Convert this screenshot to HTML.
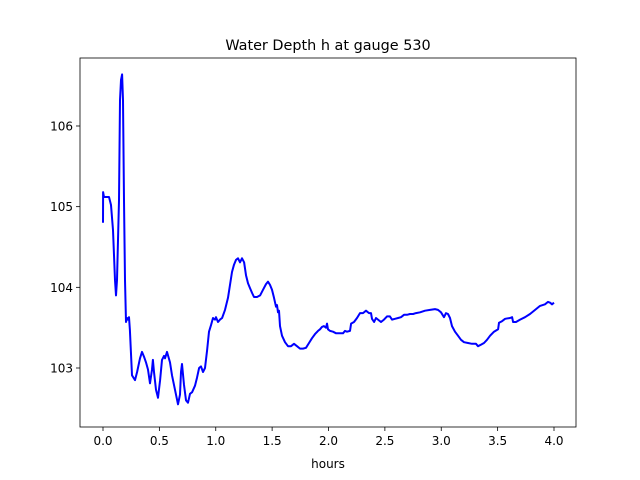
<!DOCTYPE html>
<html><head><meta charset="utf-8"><style>body{margin:0;background:#fff}svg{display:block;font-family:"DejaVu Sans","Liberation Sans",sans-serif}</style></head>
<body>
<svg id="chart" width="640" height="480" xmlns="http://www.w3.org/2000/svg">
<text x="328" y="50" font-size="14.4" text-anchor="middle">Water Depth h at gauge 530</text>
<text x="328" y="468" font-size="12" text-anchor="middle">hours</text>
<g id="axes"></g>
</svg>
<script>
const hours=[0.000,0.001,0.009,0.053,0.071,0.089,0.106,0.115,0.124,0.142,0.151,0.160,0.169,0.177,0.186,0.195,0.204,0.213,0.222,0.231,0.239,0.257,0.284,0.302,0.328,0.346,0.364,0.381,0.399,0.417,0.435,0.443,0.452,0.470,0.488,0.506,0.523,0.541,0.550,0.568,0.594,0.612,0.639,0.665,0.683,0.692,0.701,0.718,0.736,0.754,0.772,0.790,0.816,0.834,0.852,0.869,0.887,0.905,0.923,0.940,0.958,0.976,0.993,1.002,1.020,1.038,1.056,1.082,1.109,1.126,1.144,1.162,1.180,1.197,1.215,1.233,1.251,1.268,1.286,1.304,1.322,1.339,1.366,1.393,1.419,1.446,1.463,1.481,1.499,1.517,1.534,1.543,1.552,1.561,1.570,1.588,1.614,1.641,1.667,1.694,1.721,1.747,1.774,1.800,1.827,1.854,1.880,1.907,1.925,1.942,1.960,1.978,1.987,1.996,2.013,2.040,2.067,2.102,2.129,2.146,2.164,2.191,2.200,2.226,2.253,2.279,2.306,2.333,2.359,2.377,2.386,2.404,2.421,2.439,2.466,2.492,2.519,2.545,2.563,2.590,2.617,2.643,2.670,2.696,2.723,2.750,2.776,2.812,2.856,2.900,2.945,2.971,2.998,3.024,3.042,3.060,3.078,3.095,3.122,3.149,3.175,3.202,3.237,3.273,3.308,3.326,3.353,3.379,3.406,3.433,3.468,3.504,3.512,3.539,3.566,3.610,3.628,3.637,3.663,3.699,3.743,3.787,3.832,3.876,3.920,3.947,3.965,3.982,4.000];
const depth=[104.80,105.18,105.12,105.12,105.02,104.71,104.09,103.90,104.09,105.08,106.32,106.57,106.64,106.32,105.08,104.09,103.57,103.62,103.60,103.63,103.47,102.91,102.85,102.95,103.12,103.20,103.14,103.07,102.98,102.81,102.98,103.10,102.95,102.73,102.63,102.85,103.10,103.15,103.12,103.20,103.07,102.91,102.73,102.55,102.67,102.95,103.05,102.79,102.60,102.57,102.68,102.70,102.78,102.88,103.00,103.02,102.95,103.00,103.22,103.45,103.53,103.62,103.60,103.63,103.57,103.60,103.62,103.72,103.87,104.03,104.19,104.28,104.34,104.36,104.31,104.36,104.31,104.15,104.05,103.99,103.93,103.88,103.88,103.90,103.97,104.04,104.07,104.03,103.97,103.87,103.76,103.78,103.69,103.71,103.52,103.40,103.32,103.27,103.27,103.30,103.27,103.24,103.24,103.25,103.31,103.37,103.42,103.46,103.48,103.51,103.52,103.50,103.55,103.48,103.46,103.45,103.43,103.43,103.43,103.46,103.45,103.46,103.55,103.57,103.62,103.68,103.68,103.71,103.68,103.68,103.61,103.57,103.62,103.60,103.57,103.60,103.64,103.64,103.60,103.61,103.62,103.63,103.66,103.66,103.67,103.67,103.68,103.69,103.71,103.72,103.73,103.72,103.69,103.63,103.68,103.67,103.62,103.52,103.45,103.40,103.35,103.32,103.31,103.30,103.30,103.27,103.29,103.31,103.35,103.40,103.45,103.48,103.56,103.58,103.61,103.62,103.63,103.57,103.57,103.60,103.63,103.67,103.72,103.77,103.79,103.82,103.81,103.79,103.81];
const xTicks=[0.0,0.5,1.0,1.5,2.0,2.5,3.0,3.5,4.0];
const xTickLabels=["0.0","0.5","1.0","1.5","2.0","2.5","3.0","3.5","4.0"];
const yTicks=[103,104,105,106];
const yTickLabels=["103","104","105","106"];

const L=80,R=576,T=58,B=427;
const xs=h=>103+h*112.75;
const ys=d=>368-(d-103)*80.67;
const NS="http://www.w3.org/2000/svg";
const g=document.getElementById('axes');
function mk(tag,attrs){const e=document.createElementNS(NS,tag);for(const k in attrs)e.setAttribute(k,attrs[k]);g.appendChild(e);return e;}
let d='';
hours.forEach((h,i)=>{d+=(i?'L':'M')+xs(h).toFixed(1)+','+ys(depth[i]).toFixed(1);});
const line=mk('path',{d:d,fill:'none',stroke:'#0000ff','stroke-width':'2','stroke-linejoin':'round'});


xTicks.forEach((t,i)=>{
 const tk=mk('line',{x1:xs(t),x2:xs(t),y1:B,y2:B+4,stroke:'#000','stroke-width':'0.8'});
 
 
 const lb=mk('text',{x:xs(t),y:B+18,'font-size':'12','text-anchor':'middle'});
 lb.textContent=xTickLabels[i];
 
 
});
yTicks.forEach((t,i)=>{
 const tk=mk('line',{x1:L-4,x2:L,y1:ys(t),y2:ys(t),stroke:'#000','stroke-width':'0.8'});
 
 
 const lb=mk('text',{x:L-7,y:ys(t)+4.5,'font-size':'12','text-anchor':'end'});
 lb.textContent=yTickLabels[i];
 
 
});
const frame=mk('rect',{x:L,y:T,width:R-L,height:B-T,fill:'none',stroke:'#000','stroke-width':'0.8'});


</script>
</body></html>
